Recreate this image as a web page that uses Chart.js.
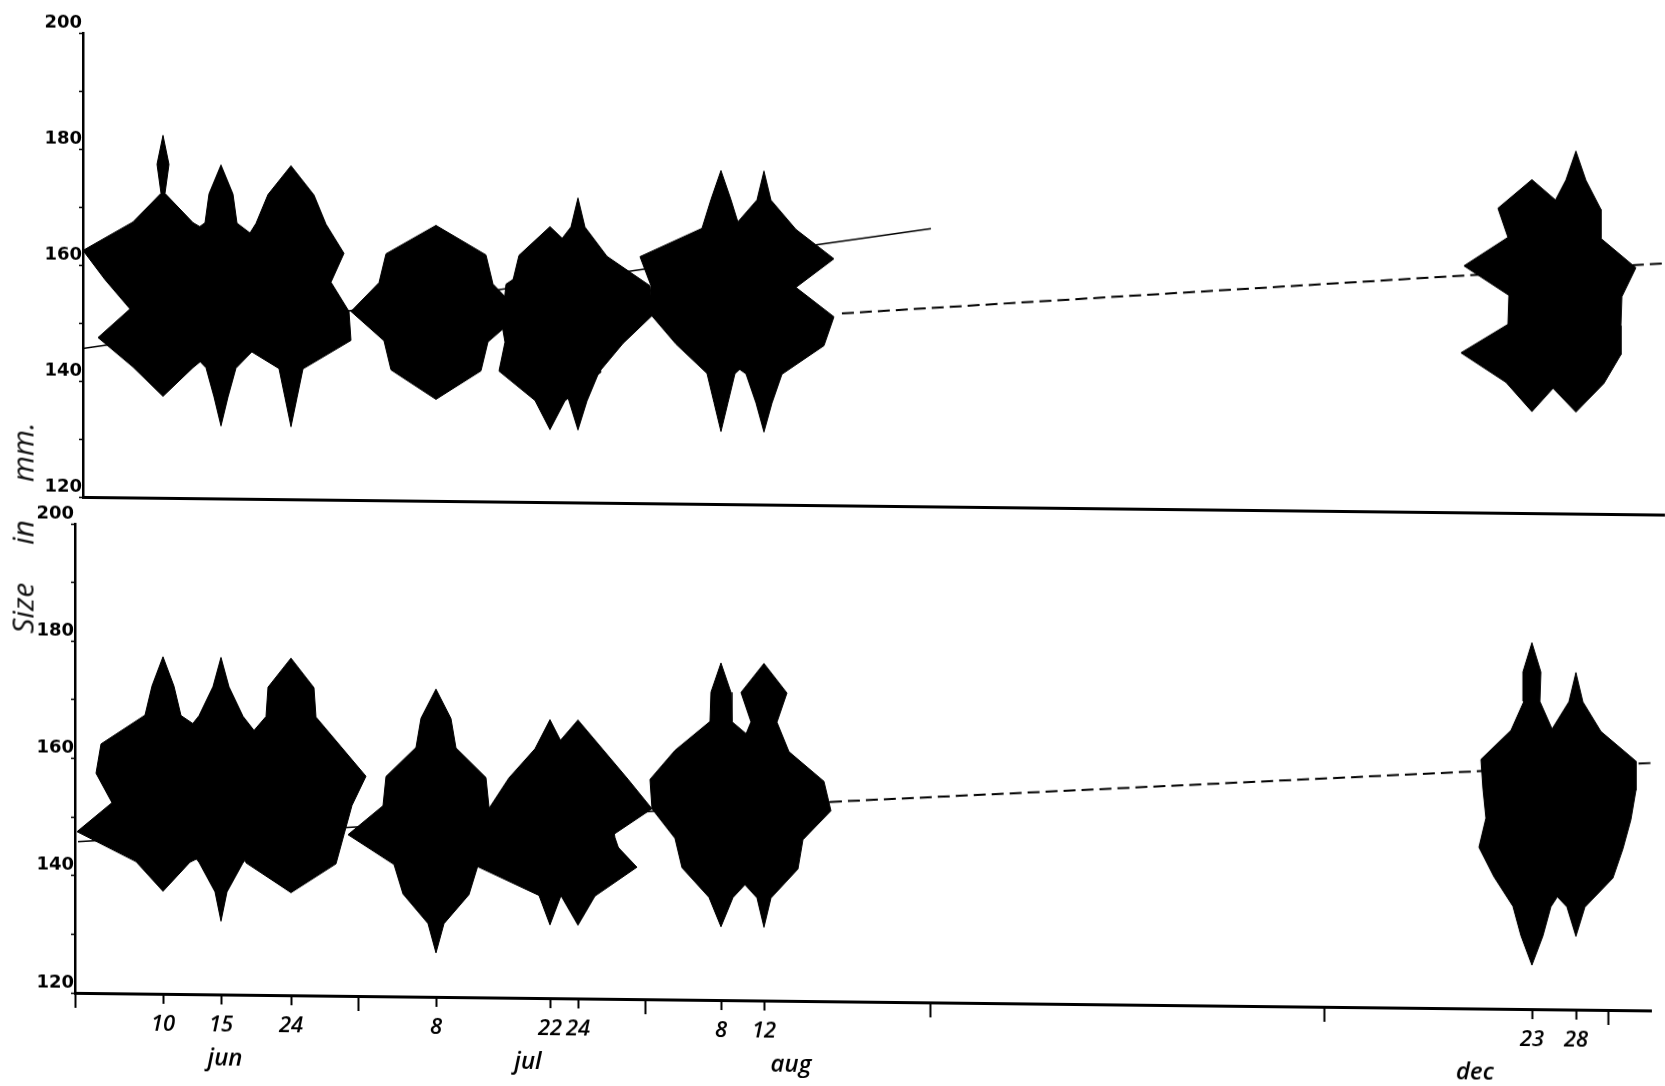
<!DOCTYPE html>
<html>
<head>
<meta charset="utf-8">
<title>Size in mm</title>
<script src="https://cdn.jsdelivr.net/npm/chart.js@4.4.1/dist/chart.umd.min.js"></script>
<style>
  html, body { margin: 0; padding: 0; background: #fff; overflow: hidden; }
  body { width: 1665px; height: 1086px; position: relative; }
  /* the scanned sheet is a little tilted, right side lower */
  #sheet { position: absolute; left: 0; top: 0; width: 1665px; height: 1086px; transform: skewY(0.64deg); transform-origin: 0 0; }
  #upper { position: absolute; left: 0; top: 0; }
  #lower { position: absolute; left: 0; top: 505px; }
  #ytitle { position: absolute; left: 22px; top: 528px; transform: translate(-50%, -50%) rotate(-90deg);
            font: italic 30px 'Open Sans', sans-serif; word-spacing: 30px; white-space: nowrap; color: #111; }
</style>
</head>
<body>
<div id="sheet">
  <canvas id="upper" width="1665" height="505"></canvas>
  <canvas id="lower" width="1665" height="581"></canvas>
</div>
<div id="ytitle">Size in mm.</div>
<script>
// size classes (mm) where the kite widths were read
const sizeClasses = [127.5, 132.5, 137.5, 142.5, 147.5, 152.5, 157.5, 162.5, 167.5, 172.5, 177.5, 182.5];

// sampling days and their place on the (uneven) time axis
const sampleDays = ['10', '15', '24', '8', '22', '24', '8', '12', '23', '28'];
const samplePos = [8.8, 14.6, 21.6, 36.1, 47.5, 50.3, 64.6, 68.9, 145.7, 150.1];
// unlabelled marks on the time axis (month limits)
const boundaryPos = [0, 28.3, 57.0, 85.6, 124.9, 153.3];
const monthLabels = ['jun', 'jul', 'aug', 'dec'];
const monthPos = [15.0, 45.3, 71.6, 140.0];

// kite half widths, one row per sample, one column per size class
const upperWidths = [
  [0, 0, 0, 3.0, 6.5, 3.3, 5.8, 8.0, 3.0, 0.2, 0.6, 0],   // 10 jun
  [0, 0, 0.7, 1.5, 4.3, 5.0, 5.5, 5.5, 1.6, 1.2, 0, 0],   // 15 jun
  [0, 0, 0.6, 1.2, 6.0, 5.8, 4.0, 5.3, 3.5, 2.3, 0, 0],   // 24 jun
  [0, 0, 0, 4.5, 5.2, 8.5, 5.7, 5.0, 0, 0, 0, 0],         // 8 jul
  [0, 0, 1.5, 5.1, 4.5, 5.0, 3.8, 3.1, 0, 0, 0, 0],       // 22 jul
  [0, 0, 0.9, 2.1, 4.5, 7.5, 7.2, 2.9, 0.7, 0, 0, 0],     // 24 jul
  [0, 0, 0.7, 1.4, 4.5, 7.0, 7.0, 8.1, 1.9, 1.0, 0, 0],   // 8 aug
  [0, 0, 0.8, 1.8, 6.0, 7.0, 3.2, 7.0, 3.2, 0.7, 0, 0],   // 12 aug
  [0, 0, 0, 2.6, 7.1, 2.4, 2.3, 6.8, 2.4, 3.4, 0, 0],     // 23 dec
  [0, 0, 0, 2.8, 4.5, 4.5, 4.6, 6.0, 2.5, 2.5, 1.0, 0]    // 28 dec
];
const lowerWidths = [
  [0, 0, 0, 2.7, 8.6, 5.1, 6.7, 6.2, 1.8, 1.1, 0, 0],     // 10 jun
  [0, 0, 0.6, 2.2, 4.5, 5.5, 5.5, 4.5, 2.2, 0.8, 0, 0],   // 15 jun
  [0, 0, 0, 4.5, 5.3, 6.1, 7.5, 5.0, 2.5, 2.3, 0, 0],     // 24 jun
  [0, 0.8, 3.3, 4.2, 8.8, 5.3, 5.0, 2.0, 1.5, 0, 0, 0],   // 8 jul
  [0, 0, 1.1, 7.5, 6.5, 6.0, 4.1, 1.5, 0, 0, 0, 0],       // 22 jul
  [0, 0, 1.7, 5.9, 3.1, 7.4, 5.0, 2.5, 0, 0, 0, 0],       // 24 jul
  [0, 0, 1.2, 3.9, 4.6, 6.9, 7.1, 4.6, 1.1, 1.0, 0, 0],   // 8 aug
  [0, 0, 0.7, 3.4, 3.9, 6.7, 6.0, 2.5, 1.3, 2.3, 0, 0],   // 12 aug
  [0, 1.1, 1.9, 3.8, 5.3, 4.6, 4.9, 5.1, 2.1, 0.8, 0.9, 0], // 23 dec
  [0, 0, 0.9, 3.7, 4.7, 5.5, 6.0, 6.0, 2.5, 0.7, 0, 0]    // 28 dec
];

// mean size lines [axis position, mm]
const upperTrend = [[0.8, 145.6], [85.6, 167.9]];
const upperTrendLate = [[76.7, 153.1], [158.8, 163.3]];
const lowerTrend = [[0.3, 145.8], [75.5, 154.0]];
const lowerTrendLate = [[75.5, 154.0], [157.6, 162.2]];

// one closed polygon per sample
function kite(center, widths) {
  let lo = 0;
  while (lo < widths.length - 1 && widths[lo + 1] === 0) lo++;
  let hi = widths.length - 1;
  while (hi > 0 && widths[hi - 1] === 0) hi--;
  const pts = [];
  for (let i = lo; i <= hi; i++) pts.push({x: center - widths[i], y: sizeClasses[i]});
  for (let i = hi; i >= lo; i--) pts.push({x: center + widths[i], y: sizeClasses[i]});
  return {
    data: pts, fill: 'shape', backgroundColor: '#000', borderColor: '#000',
    borderWidth: 1, borderJoinStyle: 'miter', pointRadius: 0, tension: 0
  };
}

function trend(points, dashed) {
  return {
    data: points.map(p => ({x: p[0], y: p[1]})), fill: false, borderColor: '#000',
    borderWidth: dashed ? 2 : 1.5, borderDash: dashed ? [12, 6] : [], pointRadius: 0, tension: 0
  };
}

const allTicks = boundaryPos.map(v => ({value: v, label: ''}))
  .concat(samplePos.map((v, i) => ({value: v, label: sampleDays[i]})))
  .sort((a, b) => a.value - b.value);

const dayFont = {family: "'Open Sans', sans-serif", size: 22, style: 'italic', weight: '600'};
const monthFont = {family: "'Open Sans', sans-serif", size: 24, style: 'italic', weight: '600'};
const sizeFont = {family: 'DejaVu Sans', size: 18, weight: 'bold'};

function yAxis(width) {
  return {
    type: 'linear', min: 120, max: 200, bounds: 'data',
    afterFit: s => { s.width = width; },
    ticks: {
      stepSize: 10, autoSkip: false, padding: -3, labelOffset: -10, color: '#000', font: sizeFont,
      callback: v => v % 20 === 0 ? String(v) : ''
    },
    grid: {drawOnChartArea: false, tickLength: 4, tickWidth: 1.5, tickColor: '#000'},
    border: {display: true, color: '#000', width: 2.5}
  };
}

function datasetsFor(widths, lines) {
  const sets = widths.map((w, i) => kite(samplePos[i], w));
  return sets.concat(lines);
}

const common = {
  responsive: false,
  animation: false,
  events: [],
  devicePixelRatio: 1,
  plugins: {legend: {display: false}, tooltip: {enabled: false}}
};

// upper panel
new Chart(document.getElementById('upper'), {
  type: 'line',
  data: {datasets: datasetsFor(upperWidths, [trend(upperTrend, false), trend(upperTrendLate, true)])},
  options: Object.assign({}, common, {
    layout: {padding: {top: 32, left: 0, right: 0, bottom: 0}, autoPadding: false},
    scales: {
      x: {
        type: 'linear', min: 0.8, max: 159, bounds: 'data',
        afterFit: s => { s.height = 9; },
        ticks: {display: false},
        grid: {display: false},
        border: {display: true, color: '#000', width: 3}
      },
      y: yAxis(83)
    }
  })
});

// lower panel
new Chart(document.getElementById('lower'), {
  type: 'line',
  data: {datasets: datasetsFor(lowerWidths, [trend(lowerTrend, false), trend(lowerTrendLate, true)])},
  options: Object.assign({}, common, {
    layout: {padding: {top: 18, left: 0, right: 14, bottom: 0}, autoPadding: false},
    scales: {
      x: {
        type: 'linear', min: 0, max: 157.6, bounds: 'data',
        afterFit: s => { s.height = 45; },
        afterBuildTicks: s => { s.ticks = allTicks.map(t => ({value: t.value})); },
        ticks: {
          autoSkip: false, maxRotation: 0, padding: 3, color: '#000', font: dayFont,
          callback: (v, i) => allTicks[i] ? allTicks[i].label : ''
        },
        grid: {
          drawOnChartArea: false, tickLength: 15, tickWidth: 2, tickColor: '#000',
          tickBorderDash: ctx => (ctx.tick && boundaryPos.includes(ctx.tick.value)) ? [] : [8, 100]
        },
        border: {display: true, color: '#000', width: 3}
      },
      x2: {
        type: 'linear', position: 'bottom', min: 0, max: 157.6, bounds: 'data',
        afterFit: s => { s.height = 49; },
        afterBuildTicks: s => { s.ticks = monthPos.map(v => ({value: v})); },
        ticks: {
          autoSkip: false, maxRotation: 0, padding: 5, color: '#000', font: monthFont,
          callback: (v, i) => monthLabels[i]
        },
        grid: {display: false, drawTicks: false},
        border: {display: false}
      },
      y: yAxis(75)
    }
  })
});
</script>
</body>
</html>
